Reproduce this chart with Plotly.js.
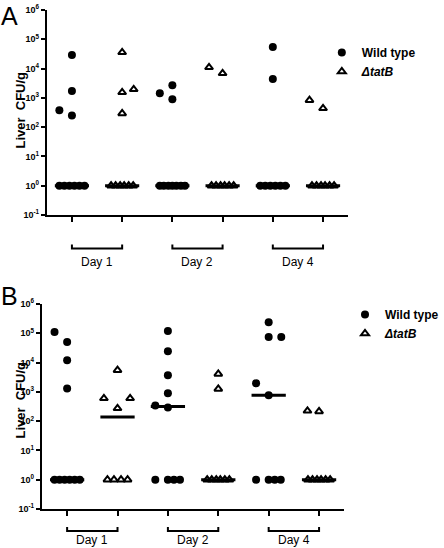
<!DOCTYPE html>
<html>
<head>
<meta charset="utf-8">
<script src="https://cdn.plot.ly/plotly-3.0.1.min.js"></script>
<style>html,body{margin:0;padding:0;background:#fff;}#chart{width:444px;height:548px;}</style>
</head>
<body>
<div id="chart"></div>
<script>
// ---------- DATA (CFU/g liver; 1 = detection floor) ----------
const days = ['Day 1', 'Day 2', 'Day 4'];
const seriesNames = ['Wild type', '\u0394tatB'];

// Panel A
const A_day1_wt  = [29000, 1700, 380, 250, 1, 1, 1, 1, 1, 1];
const A_day1_tat = [36000, 1950, 1550, 295, 1, 1, 1, 1, 1, 1];
const A_day2_wt  = [2700, 1450, 900, 1, 1, 1, 1, 1, 1, 1];
const A_day2_tat = [11000, 6900, 1, 1, 1, 1, 1, 1];
const A_day4_wt  = [54000, 4400, 1, 1, 1, 1, 1, 1];
const A_day4_tat = [830, 440, 1, 1, 1, 1, 1, 1];

// Panel B
const B_day1_wt  = [110000, 50000, 12000, 1300, 1, 1, 1, 1, 1, 1];
const B_day1_tat = [5500, 600, 600, 275, 1, 1, 1, 1];
const B_day2_wt  = [120000, 24500, 3700, 900, 340, 290, 1, 1, 1, 1];
const B_day2_tat = [4100, 1260, 1, 1, 1, 1, 1, 1];
const B_day4_wt  = [240000, 74000, 74000, 1950, 760, 1, 1, 1, 1];
const B_day4_tat = [225, 215, 1, 1, 1, 1, 1, 1];

// Horizontal scatter offsets (layout only, in category units)
const jA = [
  [0, 0, -0.25, 0, -0.25, -0.15, -0.05, 0.05, 0.15, 0.25],
  [0, 0.23, 0, 0, -0.22, -0.13, -0.04, 0.04, 0.13, 0.22],
  [0, -0.25, 0, -0.25, -0.17, -0.08, 0, 0.08, 0.17, 0.25],
  [-0.27, 0, -0.22, -0.13, -0.04, 0.04, 0.13, 0.22],
  [0, 0, -0.25, -0.15, -0.05, 0.05, 0.15, 0.25],
  [-0.27, 0, -0.22, -0.13, -0.04, 0.04, 0.13, 0.22]
];
const jB = [
  [-0.25, 0, 0, 0, -0.25, -0.15, -0.05, 0.05, 0.15, 0.25],
  [0, -0.27, 0.25, 0, -0.2, -0.07, 0.07, 0.2],
  [0, 0, 0, 0, -0.25, 0, -0.25, 0, 0.12, 0.24],
  [0, 0, -0.22, -0.13, -0.04, 0.04, 0.13, 0.22],
  [0, 0, 0.25, -0.25, 0, -0.25, 0, 0.12, 0.24],
  [-0.23, 0, -0.22, -0.13, -0.04, 0.04, 0.13, 0.22]
];

const exps = [-1, 0, 1, 2, 3, 4, 5, 6];
const tickVals = exps.map(e => Math.pow(10, e));
const tickText = exps.map(e => '10<sup>' + (e < 0 ? '-' : '') + Math.abs(e) + '</sup>');

// ---------- BUILD ----------
const FONT = 'Liberation Sans, Arial, Helvetica, sans-serif';
function median(a) {
  const s = a.slice().sort((p, q) => p - q);
  const n = s.length;
  return n % 2 ? s[(n - 1) / 2] : (s[n / 2 - 1] + s[n / 2]) / 2;
}

function panel(groups, jit, xa, ya, legendId) {
  const traces = [];
  const mx = [], my = [];
  groups.forEach((g, i) => {
    const m = median(g);
    mx.push(i - 0.34, i + 0.34, null);
    my.push(m, m, null);
  });
  traces.push({
    x: mx, y: my, xaxis: xa, yaxis: ya, mode: 'lines', type: 'scatter',
    line: {color: '#000', width: 3}, showlegend: false, hoverinfo: 'skip'
  });
  [0, 1].forEach(s => {
    const xs = [], ys = [];
    groups.forEach((g, i) => {
      if (i % 2 !== s) return;
      g.forEach((v, k) => { xs.push(i + jit[i][k]); ys.push(v); });
    });
    traces.push({
      x: xs, y: ys, xaxis: xa, yaxis: ya, mode: 'markers', type: 'scatter',
      name: s === 0 ? '<b>' + seriesNames[0] + '</b>' : '<b><i>' + seriesNames[1] + '</i></b>',
      legend: legendId,
      marker: s === 0
        ? {symbol: 'circle', size: 8, color: '#000', line: {width: 0}}
        : {symbol: 'triangle-up-open', size: 7, color: '#000', line: {width: 2, color: '#000'}}
    });
  });
  return traces;
}

const groupsA = [A_day1_wt, A_day1_tat, A_day2_wt, A_day2_tat, A_day4_wt, A_day4_tat];
const groupsB = [B_day1_wt, B_day1_tat, B_day2_wt, B_day2_tat, B_day4_wt, B_day4_tat];
const data = panel(groupsA, jA, 'x', 'y', 'legend').concat(panel(groupsB, jB, 'x2', 'y2', 'legend2'));

function xax(dom) {
  return {
    domain: dom, range: [-0.5, 5.5], tickmode: 'array', tickvals: [0, 1, 2, 3, 4, 5],
    showticklabels: false, ticks: 'outside', ticklen: 5, tickwidth: 2, tickcolor: '#000',
    showline: true, linewidth: 2, linecolor: '#000', showgrid: false, zeroline: false, fixedrange: true
  };
}
function yax(dom, anchor) {
  return {
    domain: dom, anchor: anchor, type: 'log', range: [-1, 6], tickmode: 'array',
    tickvals: tickVals, ticktext: tickText, ticks: 'outside', ticklen: 4, tickwidth: 2, tickcolor: '#000',
    tickfont: {family: FONT, size: 9, color: '#000', weight: 'bold'},
    showline: true, linewidth: 2, linecolor: '#000', showgrid: false, zeroline: false, fixedrange: true
  };
}

const H = 548, W = 444;
const py = px => 1 - px / H;

const shapes = [], annotations = [];
[['x', 248.5, 244.5, 262], ['x2', 531, 527, 540]].forEach(([xr, yl, yt, ylab]) => {
  days.forEach((d, i) => {
    const a = 2 * i, b = 2 * i + 1;
    shapes.push({
      type: 'path', xref: xr, yref: 'paper',
      path: 'M ' + a + ',' + py(yt) + ' L ' + a + ',' + py(yl) + ' L ' + b + ',' + py(yl) + ' L ' + b + ',' + py(yt),
      line: {color: '#000', width: 2}
    });
    annotations.push({
      xref: xr, yref: 'paper', x: (a + b) / 2, y: py(ylab), xanchor: 'center', yanchor: 'middle',
      text: d, showarrow: false, font: {family: FONT, size: 12, color: '#000'}
    });
  });
});
[[110, 'A', 0], [400, 'B', 280]].forEach(([yc, letter, ytop]) => {
  annotations.push({
    xref: 'paper', yref: 'paper', x: 20 / W, y: py(yc), xanchor: 'center', yanchor: 'middle',
    text: '<b>Liver\u00a0\u00a0CFU/g</b>', textangle: -90, showarrow: false,
    font: {family: FONT, size: 13, color: '#000'}
  });
  annotations.push({
    xref: 'paper', yref: 'paper', x: -1 / W, y: py(ytop), xanchor: 'left', yanchor: 'top',
    text: letter, showarrow: false, font: {family: FONT, size: 25, color: '#000'}
  });
});

const layout = {
  width: W, height: H, margin: {l: 0, r: 0, t: 0, b: 0},
  paper_bgcolor: '#fff', plot_bgcolor: '#fff',
  font: {family: FONT, color: '#000'},
  xaxis: xax([48 / W, 357 / W]), yaxis: yax([py(215), py(10)], 'x'),
  xaxis2: xax([43 / W, 353 / W]), yaxis2: yax([py(509), py(304)], 'x2'),
  legend: {x: 330 / W, y: py(38), xanchor: 'left', yanchor: 'top', bgcolor: 'rgba(0,0,0,0)',
           font: {family: FONT, size: 12, color: '#000'}, tracegroupgap: 0},
  legend2: {x: 354 / W, y: py(300), xanchor: 'left', yanchor: 'top', bgcolor: 'rgba(0,0,0,0)',
            font: {family: FONT, size: 12, color: '#000'}, tracegroupgap: 0},
  shapes: shapes, annotations: annotations, showlegend: true
};
layout.xaxis2.anchor = 'y2';
layout.xaxis.anchor = 'y';

Plotly.newPlot('chart', data, layout, {displayModeBar: false, staticPlot: true});
</script>
</body>
</html>
